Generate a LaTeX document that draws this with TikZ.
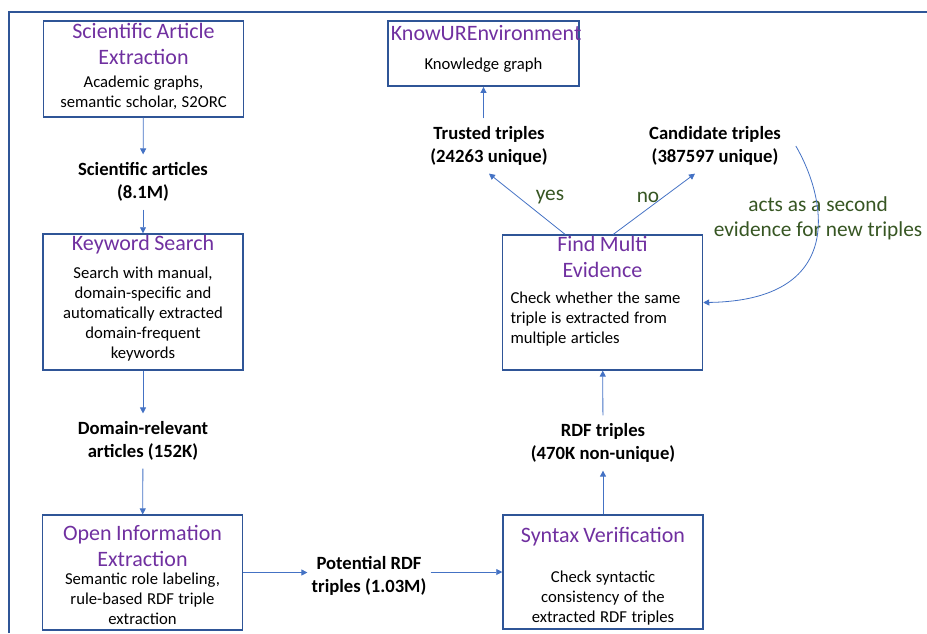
\documentclass[tikz,border=0pt]{standalone}
\usepackage{fontspec}
\setmainfont{Carlito}
\usetikzlibrary{arrows.meta,positioning}
\definecolor{frameblue}{HTML}{2F5597}
\definecolor{lineblue}{HTML}{4472C4}
\definecolor{ttlpurple}{HTML}{7030A0}
\definecolor{notegreen}{HTML}{375623}
\newcommand{\ttl}{\fontsize{16.5}{19.5}\selectfont\color{ttlpurple}}
\newcommand{\bdy}{\fontsize{12.5}{15}\selectfont\color{black}}

\begin{document}
\begin{tikzpicture}[x=0.75pt, y=-0.75pt,
  box/.style={rectangle, draw=frameblue, line width=1.1pt, text width=146pt,
              align=center, inner xsep=2pt, inner ysep=0pt, minimum width=150pt},
  lbl/.style={font=\fontsize{14}{17}\selectfont\bfseries, align=center,
              inner xsep=3pt, inner ysep=6pt},
  note/.style={font=\fontsize{16}{19}\selectfont, text=notegreen, align=center},
  ar/.style={-{Triangle[length=4.5pt,width=4.5pt]}, line width=0.6pt, draw=lineblue}
]
\useasboundingbox (0,0) rectangle (927,633);
\draw[frameblue, line width=1.5pt] (9,633) -- (9,12) -- (927,12);

% left column
\node[box, minimum height=72pt] (sci) at (143.5,69) {\ttl Scientific Article\\Extraction\par
  \vspace{2pt}\bdy Academic graphs,\\semantic scholar, S2ORC\par\vspace{4pt}};
\node[lbl] (sa) at (143,182) {Scientific articles\\(8.1M)};

\node[box, minimum height=102pt] (kw) at (143,302) {\ttl Keyword Search\par
  \vspace{6pt}\bdy Search with manual,\\domain-specific and\\automatically extracted\\
  domain-frequent\\keywords\par\vspace{6pt}};
\node[lbl] (dra) at (143,441) {Domain-relevant\\articles (152K)};

\node[box, minimum height=86pt] (oie) at (142.5,572.5) {\ttl Open Information\\Extraction\par
  \vspace{-1.5pt}\bdy Semantic role labeling,\\rule-based RDF triple\\extraction\par
  \vspace{-3pt}};
\node[lbl] (prt) at (369,576) {Potential RDF\\triples (1.03M)};

% right column
\node[box, minimum height=85.5pt] (syn) at (603,572) {\ttl Syntax Verification\par
  \vspace{15pt}\bdy Check syntactic\\consistency of the\\extracted RDF triples\par
  \vspace{-6pt}};
\node[lbl] (rdf) at (603,443) {RDF triples\\(470K non-unique)};

\node[box, align=left, text width=138pt, inner xsep=6pt, minimum height=101pt] (fme)
  at (602.5,302.5) {{\centering\ttl Find Multi\\Evidence\par}
  \vspace{4.5pt}\bdy Check whether the same\\triple is extracted from\\multiple articles\par
  \vspace{17pt}};

\node[lbl] (tt) at (489,146) {Trusted triples\\(24263 unique)};
\node[lbl] (ct) at (715,146) {Candidate triples\\(387597 unique)};
\node[note] (yes) at (550,197) {yes};
\node[note] (no) at (648,197) {no};
\node[note] (acts) at (818,218) {acts as a second\\evidence for new triples};

\node[box, text width=139pt, minimum width=143pt, minimum height=49pt] (kue)
  at (483.5,53.5) {\ttl KnowUREnvironment\par\vspace{6.75pt}\bdy Knowledge graph\par
  \vspace{7pt}};

\draw[ar] (sci) -- (sa);
\draw[ar] (sa) -- (kw);
\draw[ar] (kw) -- (dra);
\draw[ar] (dra) -- (oie);
\draw[ar] (oie.east) -- (oie.east -| prt.west);
\draw[ar] (prt.east |- syn.west) -- (syn.west);
\draw[ar] (syn) -- (rdf);
\draw[ar] (rdf) -- (fme);
\draw[ar] ([xshift=-28pt]fme.north) -- (tt.south);
\draw[ar] ([xshift=8pt]fme.north) -- ([xshift=-15pt]ct.south);
\draw[ar] (tt.north -| kue.south) -- (kue.south);
\draw[ar] ([xshift=8pt]ct.east) .. controls +(32,55) and +(142,-2) .. (fme.east);
\end{tikzpicture}
\end{document}
